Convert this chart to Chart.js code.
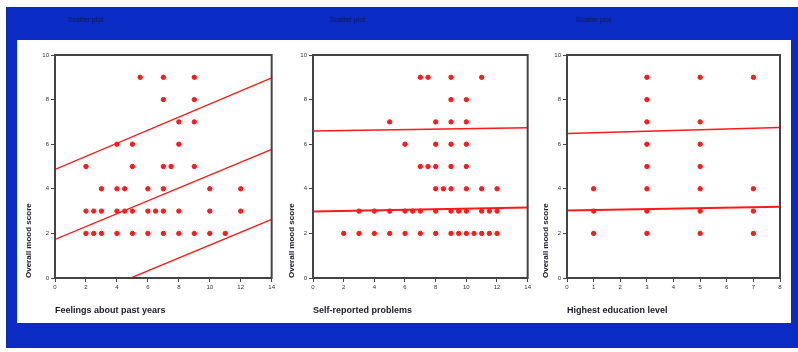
<!DOCTYPE html>
<html>
<head>
<meta charset="utf-8">
<script src="https://cdn.jsdelivr.net/npm/chart.js@4.4.1/dist/chart.umd.min.js"></script>
<style>
  html, body { margin:0; padding:0; background:#ffffff; width:798px; height:352px; overflow:hidden; font-family:"Liberation Sans", Arial, sans-serif; }
  #blue { position:absolute; left:6px; top:7px; width:792px; height:341px; background:#0a2bc4; }
  #panel { position:absolute; left:17px; top:40px; width:774px; height:283px; background:#ffffff; }
  .ttl { position:absolute; top:16px; font-size:7px; color:#131a5c; }
  .cv { position:absolute; top:45px; height:275px; }
</style>
</head>
<body>
<div id="blue"></div>
<div id="panel"></div>
<div class="ttl" style="left:68px">Scatter plot</div>
<div class="ttl" style="left:330px">Scatter plot</div>
<div class="ttl" style="left:576px">Scatter plot</div>
<div class="cv" style="left:20px;width:257px"><canvas id="c1"></canvas></div>
<div class="cv" style="left:283px;width:250px"><canvas id="c2"></canvas></div>
<div class="cv" style="left:537px;width:248px"><canvas id="c3"></canvas></div>
<script>
// ---- data ----
const yTitle = "Overall mood score";
const xTitles = ["Feelings about past years", "Self-reported problems", "Highest education level"];

// Panel 1
const p1x = [5.5,7,9, 7,9, 8,9, 4,5,8, 2,5,7,7.5,9, 3,4,4.5,6,7,10,12,
             2,2.5,3,4,4.5,5,6,6.5,7,8,10,12, 2,2.5,3,4,5,6,7,8,9,10,11];
const p1y = [9,9,9, 8,8, 7,7, 6,6,6, 5,5,5,5,5, 4,4,4,4,4,4,4,
             3,3,3,3,3,3,3,3,3,3,3,3, 2,2,2,2,2,2,2,2,2,2,2];
const p1FitX = [0,14], p1FitY = [1.73,5.77];
const p1UpY = [4.87,8.97], p1LoY = [-1.41,2.63];

// Panel 2
const p2x = [7,7.5,9,11, 9,10, 5,8,9,10, 6,8,9,10, 7,7.5,8,9,10, 8,8.5,9,10,11,12,
             3,4,5,6,6.5,7,8,9,9.5,10,11,11.5,12,
             2,3,4,5,6,7,8,9,9.5,10,10.5,11,11.5,12];
const p2y = [9,9,9,9, 8,8, 7,7,7,7, 6,6,6,6, 5,5,5,5,5, 4,4,4,4,4,4,
             3,3,3,3,3,3,3,3,3,3,3,3,3,
             2,2,2,2,2,2,2,2,2,2,2,2,2,2];
const p2FitX = [0,14], p2FitY = [2.98,3.16], p2UpY = [6.59,6.74];

// Panel 3
const p3x = [1,1,1, 3,3,3,3,3,3,3,3, 5,5,5,5,5,5,5, 7,7,7,7];
const p3y = [4,3,2, 9,8,7,6,5,4,3,2, 9,7,6,5,4,3,2, 9,4,3,2];
const p3FitX = [0,8], p3FitY = [3.03,3.2], p3UpY = [6.48,6.75];

// ---- helpers ----
const RED = '#ff1a1a';
const AX = '#444444';
const pts = (xs, ys) => xs.map((x,i) => ({x:x, y:ys[i]}));

const frame = {
  id:'frame',
  afterDraw(chart){
    const a = chart.chartArea, c = chart.ctx;
    c.save(); c.strokeStyle = AX; c.lineWidth = 2;
    c.strokeRect(a.left, a.top, a.right-a.left, a.bottom-a.top);
    c.restore();
  }
};

function make(id, xs, ys, lines, xMax, xStep, yAxisW, xTitle){
  const datasets = [{
    type:'scatter', data:pts(xs, ys), backgroundColor:RED, borderColor:RED,
    pointRadius:2.2, pointHoverRadius:2.2
  }];
  lines.forEach(l => datasets.push({
    type:'line', data:pts(l.x, l.y), borderColor:RED, borderWidth:l.w || 1.4,
    pointRadius:0, fill:false, tension:0
  }));
  new Chart(document.getElementById(id), {
    type:'scatter',
    data:{datasets},
    plugins:[frame],
    options:{
      responsive:true, maintainAspectRatio:false, animation:false,
      layout:{padding:{top:10, right:5, left:0, bottom:0}},
      plugins:{legend:{display:false}, tooltip:{enabled:false}},
      scales:{
        x:{
          type:'linear', min:0, max:xMax,
          ticks:{stepSize:xStep, font:{size:6}, color:'#333', padding:2, maxRotation:0},
          grid:{drawOnChartArea:false, drawTicks:true, tickLength:4, color:AX},
          border:{display:true, color:AX, width:2},
          title:{display:true, text:xTitle, align:'start', color:'#1a1a2a',
                 font:{size:9, weight:'bold'}, padding:{top:11}},
          afterFit(s){ s.height = 42; }
        },
        y:{
          type:'linear', min:0, max:10,
          ticks:{stepSize:2, font:{size:6}, color:'#333', padding:2},
          grid:{drawOnChartArea:false, drawTicks:true, tickLength:4, color:AX},
          border:{display:true, color:AX, width:2},
          title:{display:true, text:yTitle, align:'start', color:'#1a1a2a',
                 font:{size:8, weight:'bold'}, padding:{bottom:2}},
          afterFit(s){ s.width = yAxisW; }
        }
      }
    }
  });
}

make('c1', p1x, p1y, [
  {x:p1FitX, y:p1FitY}, {x:p1FitX, y:p1UpY}, {x:p1FitX, y:p1LoY}
], 14, 2, 35, xTitles[0]);

make('c2', p2x, p2y, [
  {x:p2FitX, y:p2FitY, w:2}, {x:p2FitX, y:p2UpY}
], 14, 2, 30, xTitles[1]);

make('c3', p3x, p3y, [
  {x:p3FitX, y:p3FitY, w:2}, {x:p3FitX, y:p3UpY}
], 8, 1, 30, xTitles[2]);
</script>
</body>
</html>
